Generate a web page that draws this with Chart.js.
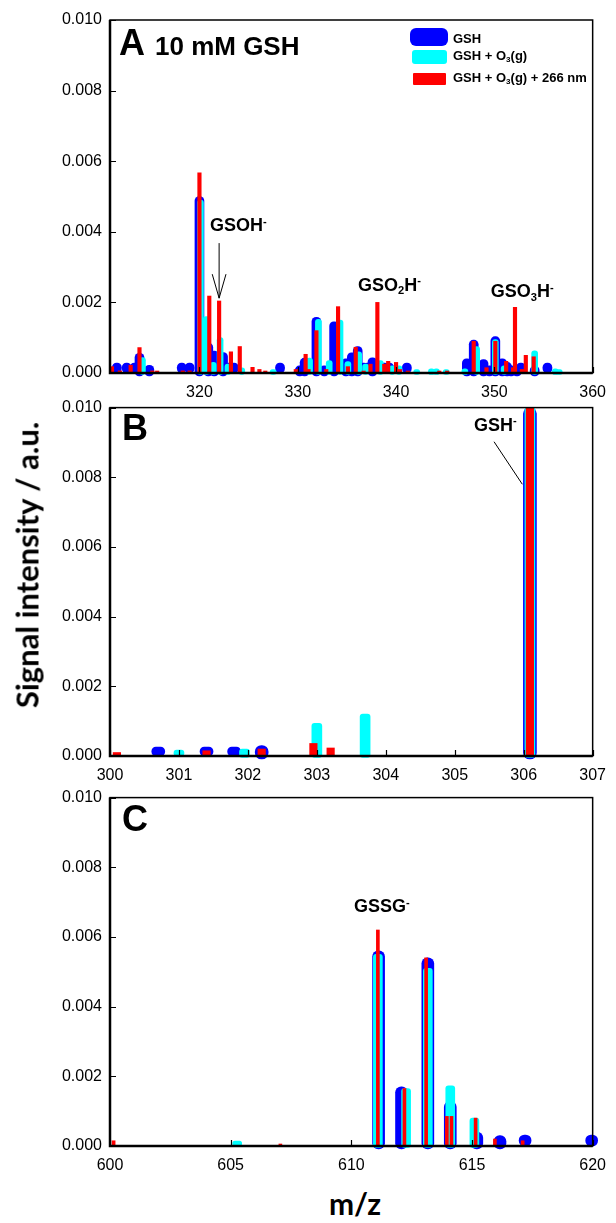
<!DOCTYPE html>
<html>
<head>
<meta charset="utf-8">
<script src="https://cdn.jsdelivr.net/npm/chart.js@4.4.1/dist/chart.umd.min.js"></script>
<style>
  body { margin: 0; background: #fff; }
  #wrap { position: relative; width: 616px; height: 1223px; overflow: hidden; }
  canvas { position: absolute; left: 0; }
  .t { position: absolute; white-space: nowrap; font-weight: bold; line-height: 1; color: #000;
       font-family: "Liberation Sans", Arial, sans-serif; }
  .t sub, .t sup { font-size: 0.62em; line-height: 0; position: relative; vertical-align: baseline; }
  .t sub { top: 0.28em; }
  .t sup { top: -0.6em; }
  .sw { position: absolute; }
</style>
</head>
<body>
<div id="wrap">
  <canvas id="chartA" width="616" height="400" style="top:0px"></canvas>
  <canvas id="chartB" width="616" height="393" style="top:390px"></canvas>
  <canvas id="chartC" width="616" height="393" style="top:780px"></canvas>
</div>
<script>
// ---- data ----
// panel A: 10 mM GSH, m/z 311-360
var mzA_gsh  = [311.6, 312.6, 313.4, 313.9, 314.9, 318.2, 319.0, 320.0, 320.9, 321.5, 322.4, 323.0, 323.5, 328.2,
                330.2, 330.7, 331.9, 332.7, 333.7, 334.4, 334.9, 335.5, 336.1, 336.7, 337.1, 337.6, 338.2, 338.8,
                339.3, 341.1, 347.2, 347.9, 348.9, 349.5, 350.1, 350.8, 351.3, 351.7, 352.3, 352.7, 354.1, 355.4];
var intA_gsh = [0.00018, 0.00012, 0.00018, 0.00056, 0.00022, 0.00012, 0.00014, 0.0050, 0.00085, 0.00062, 0.00058, 0.00018, 0.00015, 0.00012,
                0.0002, 0.00042, 0.00158, 0.0002, 0.00145, 0.00018, 0.0004, 0.00057, 0.00075, 0.00012, 0.00018, 0.00043, 0.00012, 0.00012,
                0.00012, 0.0001, 0.0004, 0.00093, 0.00038, 0.0002, 0.00103, 0.0004, 0.0003, 0.0002, 0.0002, 0.00015, 0.0002, 0.00012];

var mzA_o3  = [314.2, 320.1, 320.7, 321.4, 322.1, 322.9, 324.3, 327.5, 331.2, 332.1, 333.2, 334.3, 335.1, 336.2, 336.9,
               338.4, 339.6, 340.3, 342.1, 343.6, 344.1, 345.1, 347.0, 348.2, 350.1, 351.0, 354.1, 356.2, 356.6];
var intA_o3 = [0.00044, 0.0049, 0.0016, 0.0003, 0.0010, 0.00025, 0.00015, 0.0001, 0.00042, 0.00152, 0.00035, 0.0015, 0.00032, 0.0006, 0.00025,
               0.00035, 0.0002, 0.0002, 0.0001, 0.00012, 0.00012, 0.0001, 0.00012, 0.00075, 0.00095, 0.0002, 0.00063, 0.00012, 0.0001];

var mzA_uv  = [311.1, 311.9, 313.0, 313.9, 315.2, 315.7, 318.3, 319.0, 320.0, 321.0, 322.0, 323.2, 324.1, 325.4, 326.1,
               326.7, 329.8, 330.8, 331.1, 331.9, 332.9, 334.1, 335.1, 335.9, 336.7, 337.4, 338.1, 338.8, 339.2, 340.0,
               340.4, 341.2, 344.4, 345.2, 347.9, 349.2, 350.1, 351.2, 351.9, 352.1, 352.8, 353.2, 354.0];
var intA_uv = [0.00018, 0.00006, 0.00022, 0.00072, 0.00006, 0.00005, 0.00006, 0.00006, 0.00567, 0.00218, 0.00204, 0.0006, 0.00075, 0.00016, 0.0001,
               0.00005, 0.0001, 0.00053, 0.0001, 0.0012, 0.0001, 0.00188, 0.00018, 0.00073, 0.00005, 0.00025, 0.0020, 0.00025, 0.00033, 0.0003,
               0.0001, 0.00005, 0.00005, 0.00005, 0.0009, 0.00015, 0.0009, 0.00033, 0.00015, 0.00186, 0.0001, 0.0005, 0.00046];

// panel B: m/z 300-307
var mzB_gsh  = [300.7, 301.4, 301.8, 302.2, 306.09];
var intB_gsh = [0.0001, 0.0001, 0.0001, 0.0003, 0.0100];
var mzB_o3   = [301.0, 301.95, 303.0, 303.7, 306.09];
var intB_o3  = [0.0001, 0.0002, 0.00094, 0.0012, 0.0100];
var mzB_uv   = [300.1, 301.4, 302.2, 302.95, 303.2, 306.09];
var intB_uv  = [0.0001, 0.00015, 0.0002, 0.00036, 0.00023, 0.0100];

// panel C: m/z 600-620
var mzC_gsh  = [611.13, 612.08, 613.17, 614.1, 615.2, 616.16, 617.2, 619.96];
var intC_gsh = [0.0056, 0.0017, 0.0054, 0.00128, 0.0004, 0.0003, 0.00015, 0.0002];
var mzC_o3   = [605.27, 611.1, 612.27, 613.17, 614.1, 615.1];
var intC_o3  = [0.0001, 0.0055, 0.00165, 0.0051, 0.00173, 0.0008];
var mzC_uv   = [600.15, 607.06, 611.1, 612.2, 613.1, 613.96, 614.15, 615.15, 615.95, 617.1];
var intC_uv  = [0.00015, 0.00005, 0.0062, 0.00165, 0.0054, 0.00085, 0.00085, 0.0008, 0.0002, 0.00015];

var ticksAx = [320, 330, 340, 350, 360];
var ticksBx = [300, 301, 302, 303, 304, 305, 306, 307];
var ticksCx = [600, 605, 610, 615, 620];
var ticksY  = [0, 0.002, 0.004, 0.006, 0.008, 0.010];

var seriesNames = ['GSH', 'GSH + O3(g)', 'GSH + O3(g) + 266 nm'];
var seriesColors = ['#0000ff', '#00ffff', '#ff0000'];

// plot height is 353 px for 0.010 in every panel
var pxPerUnit = 353 / 0.010;
// bar looks per series: corner radius, how far the cap hangs under the axis (px)
var barRadius = [20, 3, 0];
var capDrop = [3, 1.5, 0];

function pairs(mz, vals) {
    return mz.map(function (m, i) { return { x: m, y: vals[i] }; });
}

// frame + inward ticks, drawn over the bars
var frameTicks = {
    id: 'frameTicks',
    afterDatasetsDraw: function (chart) {
        var ctx = chart.ctx, a = chart.chartArea, x = chart.scales.x, y = chart.scales.y;
        ctx.save();
        ctx.strokeStyle = '#000';
        ctx.lineWidth = 1.2;
        ctx.beginPath();
        x.ticks.forEach(function (t) {
            var px = Math.round(x.getPixelForValue(t.value)) + 0.5;
            ctx.moveTo(px, a.bottom); ctx.lineTo(px, a.bottom - 6);
        });
        y.ticks.forEach(function (t) {
            var py = Math.round(y.getPixelForValue(t.value)) + 0.5;
            ctx.moveTo(a.left, py); ctx.lineTo(a.left + 6, py);
        });
        ctx.stroke();
        ctx.lineWidth = 1.5;
        ctx.strokeRect(a.left, a.top, a.right - a.left, a.bottom - a.top);
        ctx.lineWidth = 2.5;
        ctx.beginPath();
        ctx.moveTo(a.left, a.top); ctx.lineTo(a.left, a.bottom); ctx.lineTo(a.right, a.bottom);
        ctx.stroke();
        ctx.restore();
    }
};

// leader lines / arrows given in data coordinates
function guides(lines) {
    return {
        id: 'guides',
        afterDatasetsDraw: function (chart) {
            var ctx = chart.ctx, x = chart.scales.x, y = chart.scales.y;
            ctx.save();
            ctx.strokeStyle = '#000';
            ctx.lineWidth = 1;
            lines.forEach(function (pts) {
                ctx.beginPath();
                pts.forEach(function (p, i) {
                    var px = x.getPixelForValue(p[0]), py = y.getPixelForValue(p[1]);
                    if (i === 0) ctx.moveTo(px, py); else ctx.lineTo(px, py);
                });
                ctx.stroke();
            });
            ctx.restore();
        }
    };
}

function makePanel(id, padTop, padRight, xMin, xMax, xTicks, series, widths, minLens, lines) {
    var datasets = series.map(function (s, i) {
        return {
            label: seriesNames[i],
            data: pairs(s[0], s[1]),
            backgroundColor: seriesColors[i],
            borderWidth: 0,
            barThickness: widths[i],
            minBarLength: minLens[i],
            borderRadius: barRadius[i],
            borderSkipped: false,
            base: -capDrop[i] / pxPerUnit,
            grouped: false,
            clip: false,
            order: 3 - i
        };
    });
    return new Chart(document.getElementById(id), {
        type: 'bar',
        data: { datasets: datasets },
        options: {
            responsive: false,
            animation: false,
            layout: { padding: { top: padTop, right: padRight, bottom: 0, left: 0 } },
            plugins: { legend: { display: false }, tooltip: { enabled: false } },
            scales: {
                x: {
                    type: 'linear',
                    min: xMin, max: xMax,
                    offset: false,
                    grid: { display: false, drawTicks: false },
                    border: { display: false },
                    afterBuildTicks: function (scale) { scale.ticks = xTicks.map(function (v) { return { value: v }; }); },
                    afterFit: function (scale) { scale.height = 27; },
                    ticks: {
                        autoSkip: false, maxRotation: 0, padding: 10, color: '#000',
                        font: { family: '"Liberation Sans", Arial, sans-serif', size: 16 },
                        callback: function (v) { return String(v); }
                    }
                },
                y: {
                    min: 0, max: 0.010,
                    grid: { display: false, drawTicks: false },
                    border: { display: false },
                    afterBuildTicks: function (scale) { scale.ticks = ticksY.map(function (v) { return { value: v }; }); },
                    afterFit: function (scale) { scale.width = 110; },
                    ticks: {
                        padding: 8, color: '#000',
                        font: { family: '"Liberation Sans", Arial, sans-serif', size: 16 },
                        callback: function (v) { return Number(v).toFixed(3); }
                    }
                }
            }
        },
        plugins: [frameTicks, guides(lines)]
    });
}

makePanel('chartA', 20, 15, 310.9, 360, ticksAx,
    [[mzA_gsh, intA_gsh], [mzA_o3, intA_o3], [mzA_uv, intA_uv]],
    [9, 6, 3.5], [10, 5, 2],
    [[[322.0, 0.00368], [322.0, 0.00212]],
     [[321.3, 0.0028], [322.0, 0.00212], [322.7, 0.0028]]]);

makePanel('chartB', 12, 14, 300, 307, ticksBx,
    [[mzB_gsh, intB_gsh], [mzB_o3, intB_o3], [mzB_uv, intB_uv]],
    [13, 10, 7.5], [9, 6, 3],
    [[[305.57, 0.00902], [305.98, 0.0078]]]);

makePanel('chartC', 13, 15, 600, 620, ticksCx,
    [[mzC_gsh, intC_gsh], [mzC_o3, intC_o3], [mzC_uv, intC_uv]],
    [12, 9, 3], [11, 5, 2],
    []);

// ---- text overlays ----
var wrap = document.getElementById('wrap');
function addText(html, x, baseline, size, opts) {
    opts = opts || {};
    var d = document.createElement('div');
    d.className = 't';
    d.innerHTML = html;
    d.style.fontSize = size + 'px';
    var asc = 0.8465;
    if (opts.family) { d.style.fontFamily = opts.family; asc = 0.887; }
    d.style.left = x + 'px';
    d.style.top = (baseline - asc * size) + 'px';
    if (opts.center) d.style.transform = 'translateX(-50%)';
    wrap.appendChild(d);
    return d;
}
function addSwatch(color, x, y, w, h, r) {
    var s = document.createElement('div');
    s.className = 'sw';
    s.style.left = x + 'px'; s.style.top = y + 'px';
    s.style.width = w + 'px'; s.style.height = h + 'px';
    s.style.background = color; s.style.borderRadius = r + 'px';
    wrap.appendChild(s);
}

addText('A', 119, 55, 36);
addText('10 mM GSH', 155, 55, 26);
addText('B', 122, 440, 36);
addText('C', 122, 831, 36);

addSwatch(seriesColors[0], 410, 28, 38, 18, 6);
addSwatch(seriesColors[1], 412, 50, 35, 14, 3);
addSwatch(seriesColors[2], 413, 73, 33, 12, 1);
addText('GSH', 453, 42.7, 13);
addText('GSH + O<sub>3</sub>(g)', 453, 60, 13);
addText('GSH + O<sub>3</sub>(g) + 266 nm', 453, 82, 13);

addText('GSOH<sup>-</sup>', 210, 231.7, 18);
addText('GSO<sub>2</sub>H<sup>-</sup>', 358, 291, 18);
addText('GSO<sub>3</sub>H<sup>-</sup>', 490.7, 297.7, 18);
addText('GSH<sup>-</sup>', 474, 431, 18);
addText('GSSG<sup>-</sup>', 354, 912.7, 18);

addText('m/z', 355, 1215, 30, { family: 'Lato, sans-serif', center: true });

var yt = document.createElement('div');
yt.className = 't';
yt.textContent = 'Signal intensity / a.u.';
yt.style.fontFamily = 'Lato, sans-serif';
yt.style.fontSize = '31px';
yt.style.left = '27px';
yt.style.top = '565px';
yt.style.transform = 'translate(-50%, -50%) rotate(-90deg)';
wrap.appendChild(yt);
</script>
</body>
</html>
